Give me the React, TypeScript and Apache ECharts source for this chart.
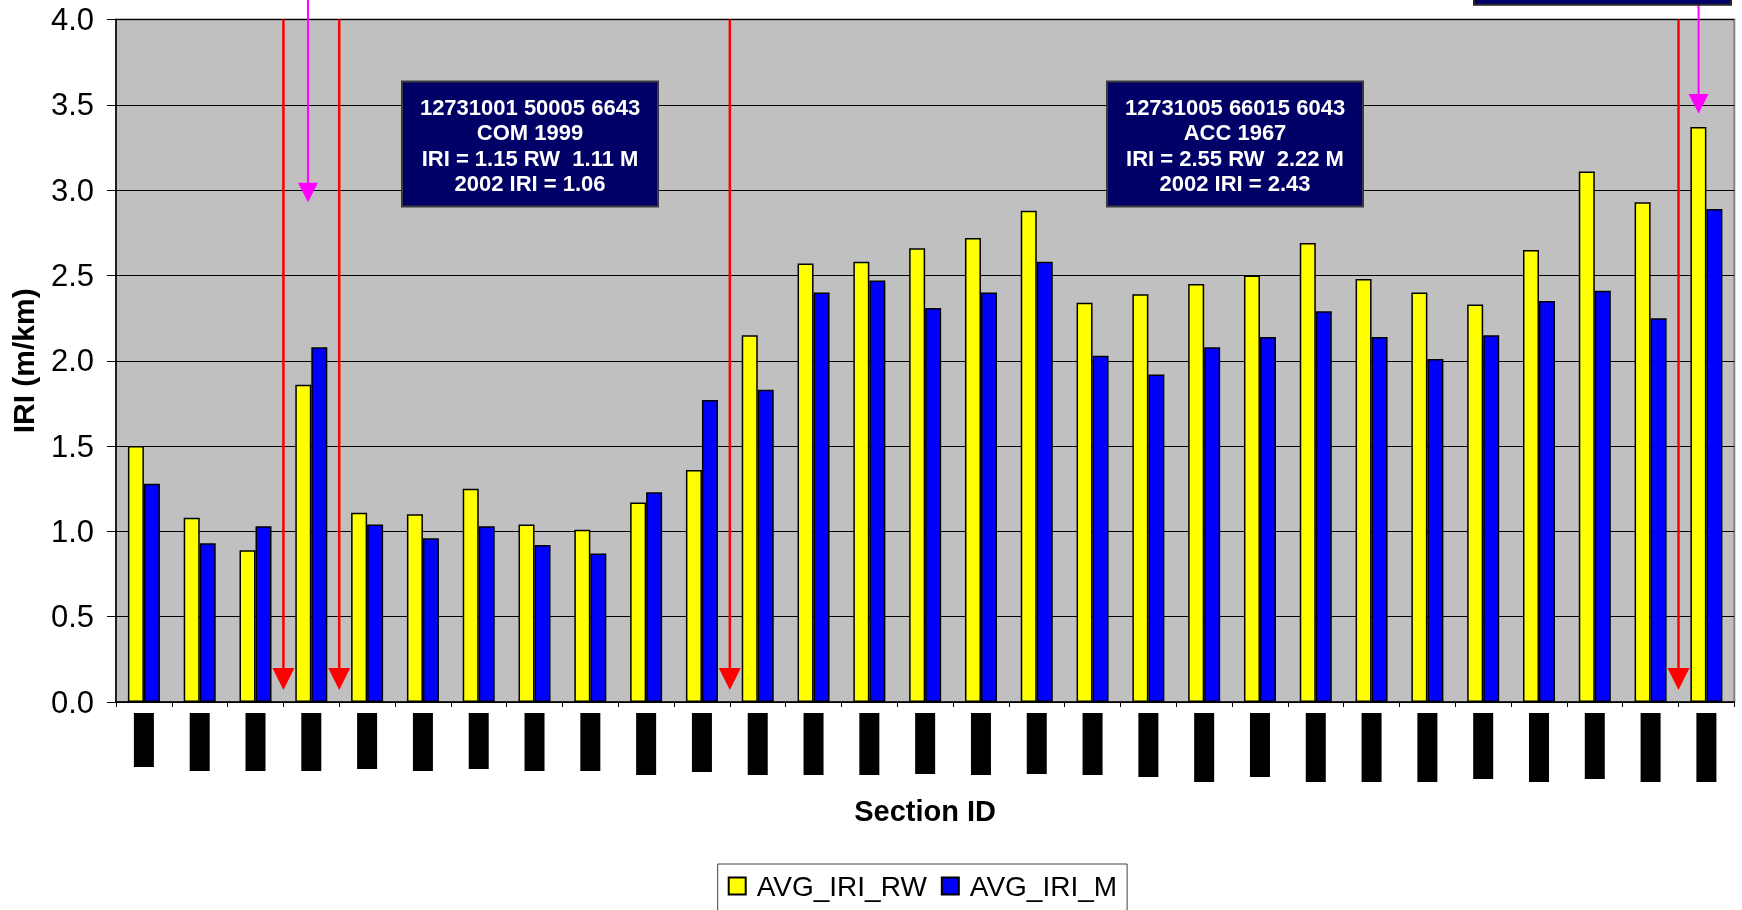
import React, { useEffect, useRef } from "react";
import * as echarts from "echarts";

// Section identifiers along the x axis (printed as redacted blocks)
const sectionIds = [
  "1", "2", "3", "4", "5", "6", "7", "8", "9", "10",
  "11", "12", "13", "14", "15", "16", "17", "18", "19", "20",
  "21", "22", "23", "24", "25", "26", "27", "28", "29",
];

// Average IRI, right wheel path (m/km)
const avgIriRw = [
  1.5, 1.08, 0.89, 1.86, 1.11, 1.1, 1.25, 1.04, 1.01, 1.17,
  1.36, 2.15, 2.57, 2.58, 2.66, 2.72, 2.88, 2.34, 2.39, 2.45,
  2.5, 2.69, 2.48, 2.4, 2.33, 2.65, 3.11, 2.93, 3.37,
];

// Average IRI, mid-lane (m/km)
const avgIriM = [
  1.28, 0.93, 1.03, 2.08, 1.04, 0.96, 1.03, 0.92, 0.87, 1.23,
  1.77, 1.83, 2.4, 2.47, 2.31, 2.4, 2.58, 2.03, 1.92, 2.08,
  2.14, 2.29, 2.14, 2.01, 2.15, 2.35, 2.41, 2.25, 2.89,
];

// Length of each blacked-out section label block
const idBlockLengths = [
  54, 58, 58, 58, 56, 58, 56, 58, 58, 62,
  59, 62, 62, 62, 61, 62, 61, 62, 64, 69,
  64, 69, 69, 69, 66, 69, 66, 69, 69,
];

// Red arrows: section boundaries (x in category units), from top to tip value
const boundaryArrows = [3, 4, 11, 28];
const boundaryArrowTip = 0.07;

// Magenta arrows: [x position in category units, tip value]
const highlightArrows = [
  [3.44, 2.93],
  [28.36, 3.45],
];

const noteLeft = [
  "12731001 50005 6643",
  "COM 1999",
  "IRI = 1.15 RW  1.11 M",
  "2002 IRI = 1.06",
];
const noteRight = [
  "12731005 66015 6043",
  "ACC 1967",
  "IRI = 2.55 RW  2.22 M",
  "2002 IRI = 2.43",
];

const FONT = '"Liberation Sans", Arial, sans-serif';

function noteBox(x: number, y: number, lines: string[]) {
  return {
    type: "group",
    x,
    y,
    z: 100,
    children: [
      {
        type: "rect",
        z: 100,
        shape: { x: 0, y: 0, width: 256, height: 125 },
        style: { fill: "#000066", stroke: "#3a3a3a", lineWidth: 2 },
      },
      {
        type: "text",
        z: 101,
        x: 128,
        y: 64,
        style: {
          text: lines.join("\n"),
          fill: "#ffffff",
          font: `bold 22px ${FONT}`,
          align: "center",
          verticalAlign: "middle",
          lineHeight: 25.5,
        },
      },
    ],
  };
}

export default function App() {
  const ref = useRef<HTMLDivElement>(null);

  useEffect(() => {
    if (!ref.current) return;
    const chart = echarts.init(ref.current, undefined, { renderer: "svg" });

    const rich: Record<string, any> = {};
    idBlockLengths.forEach((h) => {
      rich["b" + h] = {
        width: 20,
        height: h,
        backgroundColor: "#000",
        color: "#000",
        fontSize: 8,
      };
    });

    const arrowData: number[][] = [
      ...boundaryArrows.map((x) => [x, 4, boundaryArrowTip, 0]),
      ...highlightArrows.map(([x, tip]) => [x, 4.25, tip, 1]),
    ];

    chart.setOption({
      animation: false,
      textStyle: { fontFamily: FONT },
      grid: {
        left: 114.5,
        top: 19.6,
        width: 1619.8,
        height: 682.4,
        show: true,
        backgroundColor: "#C0C0C0",
        borderColor: "#808080",
        borderWidth: 2,
      },
      legend: {
        data: ["AVG_IRI_RW", "AVG_IRI_M"],
        left: 717.7,
        top: 864,
        orient: "horizontal",
        icon: "rect",
        itemWidth: 17,
        itemHeight: 17,
        itemGap: 14,
        padding: [8, 10, 24, 10],
        borderColor: "#404040",
        borderWidth: 1,
        backgroundColor: "#ffffff",
        textStyle: {
          fontSize: 28,
          color: "#000",
          fontFamily: FONT,
          padding: [0, 0, 0, 6],
        },
      },
      xAxis: [
        {
          type: "category",
          data: sectionIds,
          name: "Section ID",
          nameLocation: "middle",
          nameGap: 94,
          nameTextStyle: {
            fontSize: 29,
            fontWeight: "bold",
            color: "#000",
            fontFamily: FONT,
          },
          axisLine: { lineStyle: { color: "#000", width: 1.5 } },
          axisTick: { show: true, length: 5, lineStyle: { color: "#000" } },
          axisLabel: {
            interval: 0,
            margin: 11,
            formatter: (_v: string, i: number) => `{b${idBlockLengths[i]}|\u00a0}`,
            rich,
          },
          splitLine: { show: false },
        },
        {
          type: "value",
          min: 0,
          max: 29,
          show: false,
          splitLine: { show: false },
        },
      ],
      yAxis: {
        type: "value",
        min: 0,
        max: 4,
        interval: 0.5,
        name: "IRI (m/km)",
        nameLocation: "middle",
        nameRotate: 90,
        nameGap: 78,
        nameTextStyle: {
          fontSize: 30,
          fontWeight: "bold",
          color: "#000",
          fontFamily: FONT,
        },
        axisLine: { show: true, lineStyle: { color: "#000", width: 1.5 } },
        axisTick: { show: true, length: 9, lineStyle: { color: "#000" } },
        axisLabel: {
          fontSize: 31,
          color: "#000",
          margin: 22,
          fontFamily: FONT,
          formatter: (v: number) => v.toFixed(1),
        },
        splitLine: { show: true, lineStyle: { color: "#000", width: 1 } },
      },
      series: [
        {
          name: "AVG_IRI_RW",
          type: "bar",
          data: avgIriRw,
          barWidth: 16,
          barGap: "0%",
          itemStyle: { color: "#FFFF00", borderColor: "#000", borderWidth: 1.5 },
        },
        {
          name: "AVG_IRI_M",
          type: "bar",
          data: avgIriM,
          barWidth: 16,
          barGap: "0%",
          itemStyle: { color: "#0000FF", borderColor: "#000", borderWidth: 1.5 },
        },
        {
          name: "arrows",
          type: "custom",
          xAxisIndex: 1,
          yAxisIndex: 0,
          clip: false,
          z: 10,
          silent: true,
          data: arrowData,
          renderItem: (_p: any, api: any) => {
            const x = api.value(0);
            const from = api.coord([x, api.value(1)]);
            const tip = api.coord([x, api.value(2)]);
            const red = api.value(3) === 0;
            const color = red ? "#FF0000" : "#FF00FF";
            const hw = red ? 11 : 10;
            const hh = red ? 22 : 19.5;
            return {
              type: "group",
              children: [
                {
                  type: "line",
                  shape: { x1: from[0], y1: from[1], x2: tip[0], y2: tip[1] - hh + 2 },
                  style: { stroke: color, lineWidth: red ? 2.5 : 2 },
                },
                {
                  type: "polygon",
                  shape: {
                    points: [
                      [tip[0] - hw, tip[1] - hh],
                      [tip[0] + hw, tip[1] - hh],
                      [tip[0], tip[1]],
                    ],
                  },
                  style: { fill: color },
                },
              ],
            };
          },
        },
      ],
      graphic: [
        noteBox(402, 81.5, noteLeft),
        noteBox(1107, 81.5, noteRight),
        {
          type: "rect",
          z: 100,
          shape: { x: 1474, y: -60, width: 257, height: 64.7 },
          style: { fill: "#000066", stroke: "#262626", lineWidth: 2 },
        },
      ],
    });

    return () => chart.dispose();
  }, []);

  return (
    <div
      ref={ref}
      style={{ position: "fixed", left: 0, top: 0, width: 1742, height: 910 }}
    />
  );
}
